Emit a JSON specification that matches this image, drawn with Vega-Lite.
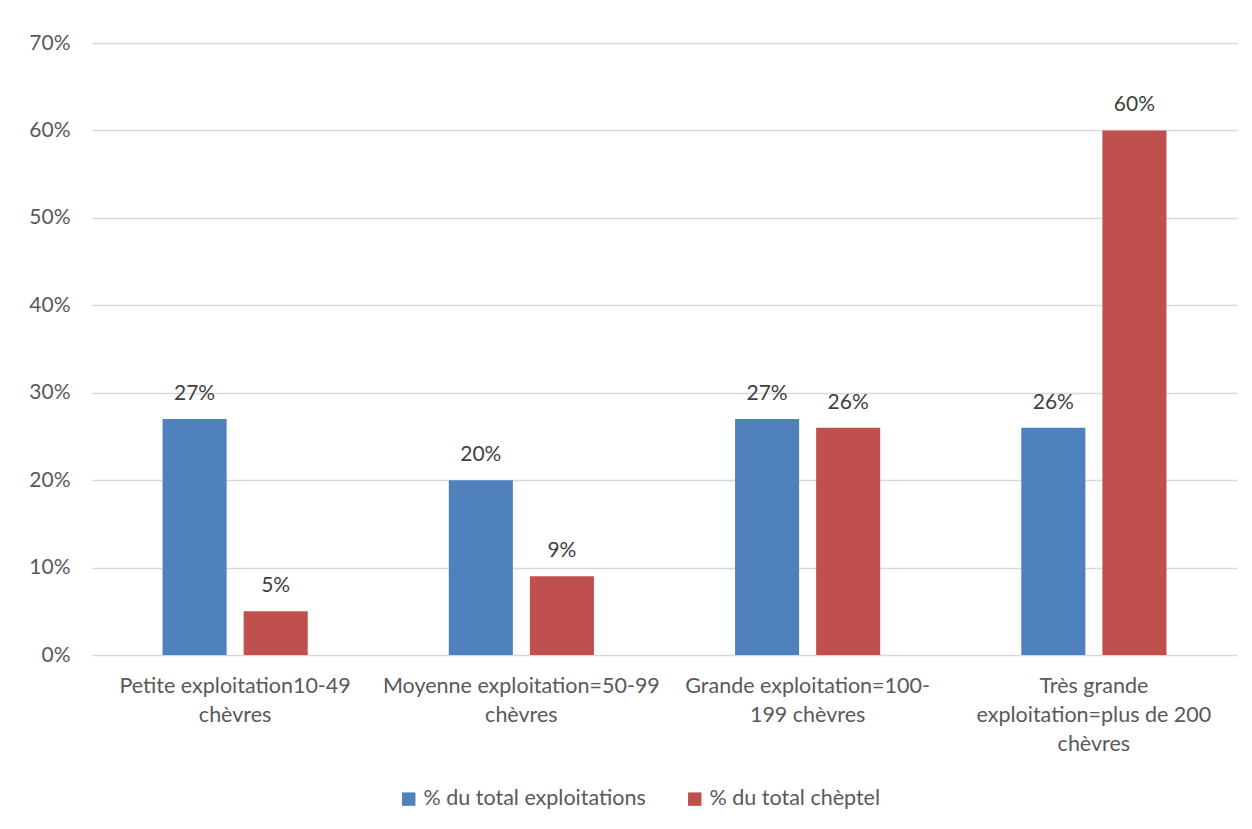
{
  "$schema": "https://vega.github.io/schema/vega-lite/v6.json",
  "width": 1145,
  "height": 612,
  "autosize": "none",
  "padding": {"left": 92, "top": 43, "right": 15, "bottom": 174},
  "background": "white",
  "config": {
    "font": "Lato",
    "view": {"stroke": null},
    "text": {"font": "Lato"}
  },
  "data": {
    "values": [
      {"cat": "Petite exploitation10-49|chèvres", "serie": "% du total exploitations", "v": 0.27},
      {"cat": "Petite exploitation10-49|chèvres", "serie": "% du total chèptel", "v": 0.05},
      {"cat": "Moyenne exploitation=50-99|chèvres", "serie": "% du total exploitations", "v": 0.20},
      {"cat": "Moyenne exploitation=50-99|chèvres", "serie": "% du total chèptel", "v": 0.09},
      {"cat": "Grande exploitation=100-|199 chèvres", "serie": "% du total exploitations", "v": 0.27},
      {"cat": "Grande exploitation=100-|199 chèvres", "serie": "% du total chèptel", "v": 0.26},
      {"cat": "Très grande|exploitation=plus de 200|chèvres", "serie": "% du total exploitations", "v": 0.26},
      {"cat": "Très grande|exploitation=plus de 200|chèvres", "serie": "% du total chèptel", "v": 0.60}
    ]
  },
  "encoding": {
    "x": {
      "field": "cat", "type": "nominal", "sort": null, "title": null,
      "scale": {"paddingInner": 0, "paddingOuter": 0},
      "axis": {
        "labelAngle": 0, "domain": false, "ticks": false,
        "labelExpr": "split(datum.label, '|')",
        "labelFontSize": 21.5, "labelColor": "#595959", "labelPadding": 20,
        "labelLineHeight": 29, "labelBaseline": "top", "labelLimit": 0
      }
    },
    "xOffset": {
      "field": "serie", "type": "nominal", "sort": ["% du total exploitations", "% du total chèptel"],
      "scale": {"paddingInner": 0.21, "paddingOuter": 0.87}
    },
    "y": {
      "field": "v", "type": "quantitative", "title": null,
      "scale": {"domain": [0, 0.7], "nice": false},
      "axis": {
        "values": [0, 0.1, 0.2, 0.3, 0.4, 0.5, 0.6, 0.7],
        "format": ".0%", "domain": false, "ticks": false,
        "gridColor": "#d9d9d9", "gridWidth": 1.5,
        "labelFontSize": 21, "labelColor": "#595959", "labelPadding": 22
      }
    }
  },
  "layer": [
    {
      "mark": {"type": "bar"},
      "encoding": {
        "color": {
          "field": "serie", "type": "nominal", "title": null,
          "sort": ["% du total exploitations", "% du total chèptel"],
          "scale": {"domain": ["% du total exploitations", "% du total chèptel"], "range": ["#4f81bd", "#c0504d"]},
          "legend": {
            "orient": "none", "direction": "horizontal", "legendX": 306, "legendY": 745,
            "symbolType": "square", "symbolSize": 180, "symbolStrokeWidth": 0,
            "labelFontSize": 21.5, "labelColor": "#595959", "columnPadding": 38, "labelOffset": 4,
            "labelLimit": 0
          }
        }
      }
    },
    {
      "mark": {"type": "text", "baseline": "bottom", "dy": -15, "fontSize": 21, "color": "#404040"},
      "encoding": {
        "text": {"field": "v", "type": "quantitative", "format": ".0%"}
      }
    }
  ]
}
